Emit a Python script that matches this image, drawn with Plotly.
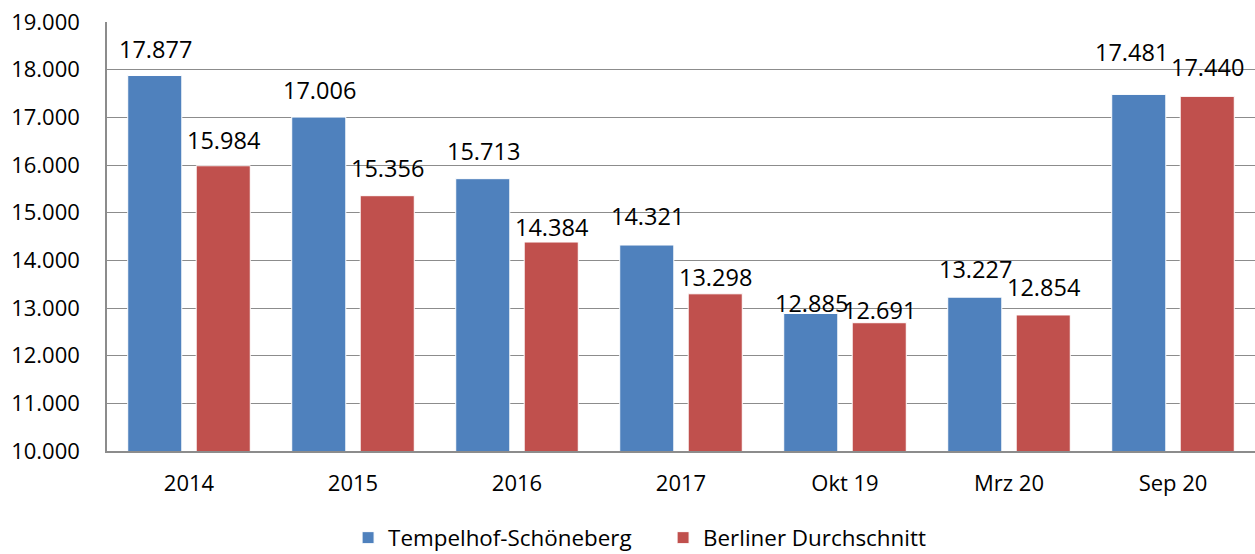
import plotly.graph_objects as go

categories = ["2014", "2015", "2016", "2017", "Okt 19", "Mrz 20", "Sep 20"]
tempelhof = [17877, 17006, 15713, 14321, 12885, 13227, 17481]
berlin = [15984, 15356, 14384, 13298, 12691, 12854, 17440]
series_names = ["Tempelhof-Schöneberg", "Berliner Durchschnitt"]

# label placement styles (pixel offsets of the value labels above bar tops)
label_dy_blue = [27, 27, 28, 29, 10, 28, 42]
label_dy_red = [26, 28, 15, 17, 13, 28, 29]
label_dx_blue = [0, 0, 0, 0, 0, 0, -8]

FONT = "Open Sans"
BLUE = "#4F81BD"
RED = "#C0504D"
GRID = "#8C8C8C"

def fmt(v):
    return f"{v:,}".replace(",", ".")

xpos = list(range(len(categories)))

fig = go.Figure()
fig.add_trace(go.Bar(x=xpos, y=tempelhof, name=series_names[0],
                     marker=dict(color=BLUE, line=dict(color="white", width=1))))
fig.add_trace(go.Bar(x=xpos, y=berlin, name=series_names[1],
                     marker=dict(color=RED, line=dict(color="white", width=1))))

annotations = []
for i in xpos:
    annotations.append(dict(x=i, y=tempelhof[i], text=fmt(tempelhof[i]), showarrow=False,
                            xshift=-34 + label_dx_blue[i], yshift=label_dy_blue[i],
                            yanchor="middle", font=dict(family=FONT, size=23.5, color="black")))
    annotations.append(dict(x=i, y=berlin[i], text=fmt(berlin[i]), showarrow=False,
                            xshift=34, yshift=label_dy_red[i],
                            yanchor="middle", font=dict(family=FONT, size=23.5, color="black")))

fig.update_layout(
    width=1255, height=554,
    margin=dict(l=107, r=0, t=22, b=103, autoexpand=False),
    paper_bgcolor="white", plot_bgcolor="white",
    separators=",.",
    barmode="group", bargap=0.165, bargroupgap=0.21,
    font=dict(family=FONT, size=23, color="black"),
    annotations=annotations,
    showlegend=True,
    legend=dict(orientation="h", x=0.21, xanchor="left", y=-0.203, yanchor="middle",
                font=dict(family=FONT, size=22.4), itemwidth=30, traceorder="normal",
                entrywidth=270, entrywidthmode="pixels",
                bgcolor="rgba(0,0,0,0)"),
    xaxis=dict(range=[-0.5, len(categories) - 0.5], tickvals=xpos, ticktext=categories,
               showgrid=False, showline=True, linecolor=GRID, linewidth=1.5, zeroline=False,
               automargin=False,
               ticks="", ticklabelstandoff=12, tickfont=dict(family=FONT, size=22)),
    yaxis=dict(range=[10000, 19000], dtick=1000, tickformat=",.0f", showgrid=True,
               gridcolor=GRID, gridwidth=1.3, showline=True, linecolor=GRID, linewidth=1.5,
               automargin=False,
               ticks="", ticklabelstandoff=21, zeroline=False,
               tickfont=dict(family=FONT, size=22)),
)

fig.write_html("out.html", config={"displayModeBar": False, "responsive": False},
               post_script="document.body.style.margin='0';")
